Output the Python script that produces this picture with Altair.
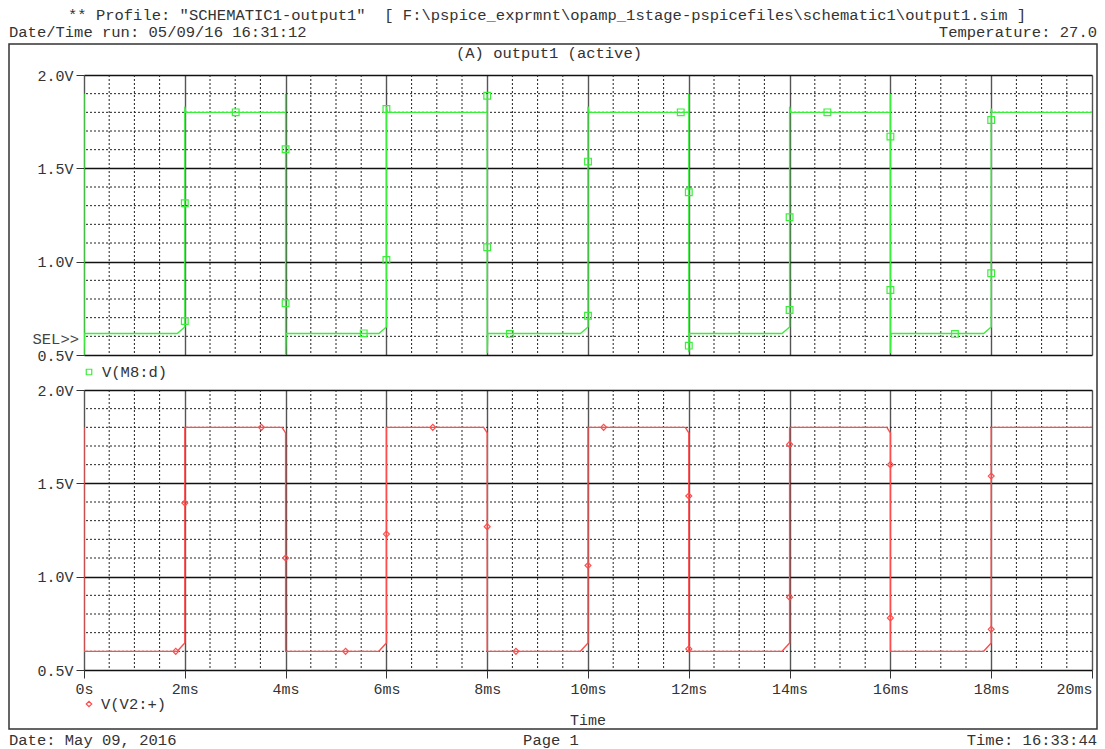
import altair as alt
import pandas as pd

# ---------------- data (time in ms, volts) ----------------
# V(M8:d) waveform (top panel)
G_T = [0, 0, 0.01,
       1.85, 2.0, 2.0, 2.02,
       4.0, 4.0, 4.0, 4.01,
       5.85, 6.0, 6.0, 6.02,
       8.0, 8.0, 8.0, 8.01,
       9.85, 10.0, 10.0, 10.02,
       12.0, 12.0, 12.0, 12.01,
       13.85, 14.0, 14.0, 14.02,
       16.0, 16.0, 16.0, 16.01,
       17.85, 18.0, 18.0, 18.02,
       20.0]
G_V = [1.9, 0.5, 0.615,
       0.615, 0.65, 1.83, 1.8,
       1.8, 1.9, 0.5, 0.615,
       0.615, 0.65, 1.83, 1.8,
       1.8, 1.9, 0.51, 0.615,
       0.615, 0.65, 1.83, 1.8,
       1.8, 1.9, 0.515, 0.615,
       0.615, 0.65, 1.83, 1.8,
       1.8, 1.9, 0.51, 0.615,
       0.615, 0.65, 1.82, 1.8,
       1.8]
# square markers on V(M8:d)
GM_T = [2.0, 2.0, 3.01, 4.0, 4.0, 5.55, 6.0, 6.0, 8.0, 8.0, 8.45, 10.0,
        10.0, 11.84, 12.0, 12.0, 14.0, 14.0, 14.75, 16.0, 16.0, 17.28, 18.0, 18.0]
GM_V = [0.682, 1.313, 1.8, 1.602, 0.777, 0.616, 1.009, 1.818, 1.889, 1.077, 0.613, 1.536,
        0.71, 1.8, 1.372, 0.55, 1.238, 0.741, 1.8, 1.67, 0.848, 0.613, 0.938, 1.759]

# V(V2:+) waveform (bottom panel)
R_T = [0, 0,
       1.85, 2.0, 2.0, 3.93, 4.0, 4.0,
       5.85, 6.0, 6.0, 7.93, 8.0, 8.0,
       9.85, 10.0, 10.0, 11.93, 12.0, 12.0,
       13.85, 14.0, 14.0, 15.93, 16.0, 16.0,
       17.85, 18.0, 18.0,
       20.0]
R_V = [1.8, 0.6,
       0.6, 0.645, 1.8, 1.8, 1.77, 0.6,
       0.6, 0.645, 1.8, 1.8, 1.77, 0.6,
       0.6, 0.645, 1.8, 1.8, 1.77, 0.6,
       0.6, 0.645, 1.8, 1.8, 1.77, 0.6,
       0.6, 0.645, 1.8,
       1.8]
# diamond markers on V(V2:+)
RM_T = [1.82, 2.0, 3.52, 4.0, 5.19, 6.0, 6.92, 8.0, 8.57, 10.0, 10.31, 12.0, 12.0,
        14.0, 14.0, 16.0, 16.0, 18.0, 18.0]
RM_V = [0.6, 1.395, 1.8, 1.1, 0.6, 1.228, 1.8, 1.268, 0.6, 1.06, 1.8, 1.432, 0.613,
        1.709, 0.89, 1.6, 0.779, 1.539, 0.718]

# axis ticks / grid
MAJOR_T = [0, 2, 4, 6, 8, 10, 12, 14, 16, 18, 20]
MINOR_T = [0.5, 1, 1.5, 2.5, 3, 3.5, 4.5, 5, 5.5, 6.5, 7, 7.5, 8.5, 9, 9.5,
           10.5, 11, 11.5, 12.5, 13, 13.5, 14.5, 15, 15.5, 16.5, 17, 17.5, 18.5, 19, 19.5]
MAJOR_V = [0.5, 1.0, 1.5, 2.0]
MINOR_V = [0.6, 0.7, 0.8, 0.9, 1.1, 1.2, 1.3, 1.4, 1.6, 1.7, 1.8, 1.9]

GREEN = "#3cee3c"
RED = "#ff4d4d"
FONT = "Liberation Mono"
TXT = "#333333"
W, H = 1008, 280

green_df = pd.DataFrame({"t": G_T, "v": G_V, "i": range(len(G_T))})
green_m = pd.DataFrame({"t": GM_T, "v": GM_V})
red_df = pd.DataFrame({"t": R_T, "v": R_V, "i": range(len(R_T))})
red_m = pd.DataFrame({"t": RM_T, "v": RM_V})
minor_t = pd.DataFrame({"t": MINOR_T})
minor_v = pd.DataFrame({"v": MINOR_V})

X_LABEL_ALIGN = {"condition": {"test": "datum.value == 20", "value": "right"}, "value": "center"}


def xenc(show):
    return alt.X("t:Q", scale=alt.Scale(domain=[0, 20], nice=False, zero=False),
                 axis=alt.Axis(values=MAJOR_T, grid=True, gridColor="#555555", gridWidth=1.4,
                               domain=False, ticks=show, tickSize=8, tickColor="#333333",
                               labels=show, labelFlush=False, labelOverlap=False,
                               labelAlign=X_LABEL_ALIGN,
                               labelExpr="datum.value == 0 ? '0s' : datum.value + 'ms'",
                               labelFont=FONT, labelFontSize=15, labelColor=TXT,
                               labelPadding=3, title=None))


def yenc():
    return alt.Y("v:Q", scale=alt.Scale(domain=[0.5, 2.0], nice=False, zero=False),
                 axis=alt.Axis(values=MAJOR_V, grid=True, gridColor="#111111", gridWidth=1.4,
                               domain=False, ticks=True, tickSize=8, tickColor="#333333",
                               labelExpr="format(datum.value, '.1f') + 'V'",
                               labelFlush=False, labelOverlap=False,
                               labelFont=FONT, labelFontSize=15, labelColor=TXT,
                               labelPadding=3, title=None))


one = alt.Data(values=[{}])


def txt(s, x, y, align="left", size=15.5, color=TXT):
    return alt.Chart(one).mark_text(text=s, align=align, baseline="middle", font=FONT,
                                    fontSize=size, color=color).encode(
        x=alt.value(x), y=alt.value(y))


def panel(line_df, mark_df, color, shape, msize, show):
    grid_x = alt.Chart(minor_t).mark_rule(strokeDash=[2, 2], color="#222222", strokeWidth=1).encode(x=xenc(show))
    grid_y = alt.Chart(minor_v).mark_rule(strokeDash=[2, 2], color="#222222", strokeWidth=1).encode(y=yenc())
    line = alt.Chart(line_df).mark_line(color=color, strokeWidth=1.4, clip=True).encode(
        x=xenc(show), y=yenc(), order=alt.Order("i:Q"))
    pts = alt.Chart(mark_df).mark_point(shape=shape, filled=False, color=color, size=msize,
                                        strokeWidth=1.2, opacity=1, clip=True).encode(
        x=xenc(show), y=yenc())
    return grid_x, grid_y, line, pts


# invisible page extent + frame + annotations (positions relative to top plot origin at page (84,75))
page = alt.Chart(one).mark_rect(opacity=0).encode(
    x=alt.value(-84), x2=alt.value(1021), y=alt.value(-75), y2=alt.value(674))
frame = alt.Chart(one).mark_rect(fillOpacity=0, stroke="#333333", strokeWidth=1.5).encode(
    x=alt.value(-75), x2=alt.value(1013), y=alt.value(-31), y2=alt.value(654))

top_layers = panel(green_df, green_m, GREEN, "square", 45, False)
top = alt.layer(
    *top_layers, page, frame,
    txt('** Profile: "SCHEMATIC1-output1"\u00a0\u00a0[ F:\\pspice_exprmnt\\opamp_1stage-pspicefiles\\schematic1\\output1.sim ]', -16, -60),
    txt("Date/Time run: 05/09/16 16:31:12", -75, -43),
    txt("Temperature: 27.0", 1013, -43, align="right"),
    txt("(A) output1 (active)", 465, -22, align="center"),
    txt("SEL>>", -5, 264, align="right", color="#444444"),
    alt.Chart(one).mark_point(shape="square", filled=False, color=GREEN, size=30, opacity=1,
                              strokeWidth=1.2).encode(x=alt.value(5), y=alt.value(297)),
    txt("V(M8:d)", 18, 297),
).properties(width=W, height=H)

bot_layers = panel(red_df, red_m, RED, "diamond", 35, True)
bottom = alt.layer(
    *bot_layers,
    alt.Chart(one).mark_point(shape="diamond", filled=False, color=RED, size=30, opacity=1,
                              strokeWidth=1.2).encode(x=alt.value(5), y=alt.value(314)),
    txt("V(V2:+)", 17, 314),
    txt("Time", 504, 330, align="center", size=15),
    txt("Date: May 09, 2016", -75, 350),
    txt("Page 1", 467, 350, align="center"),
    txt("Time: 16:33:44", 1013, 350, align="right"),
).properties(width=W, height=H)

chart = alt.vconcat(top, bottom, spacing=35, bounds="flush").properties(
    padding=0, background="white"
).configure_view(strokeWidth=0)

chart.save("out.html", embed_options={"renderer": "svg", "actions": False})
